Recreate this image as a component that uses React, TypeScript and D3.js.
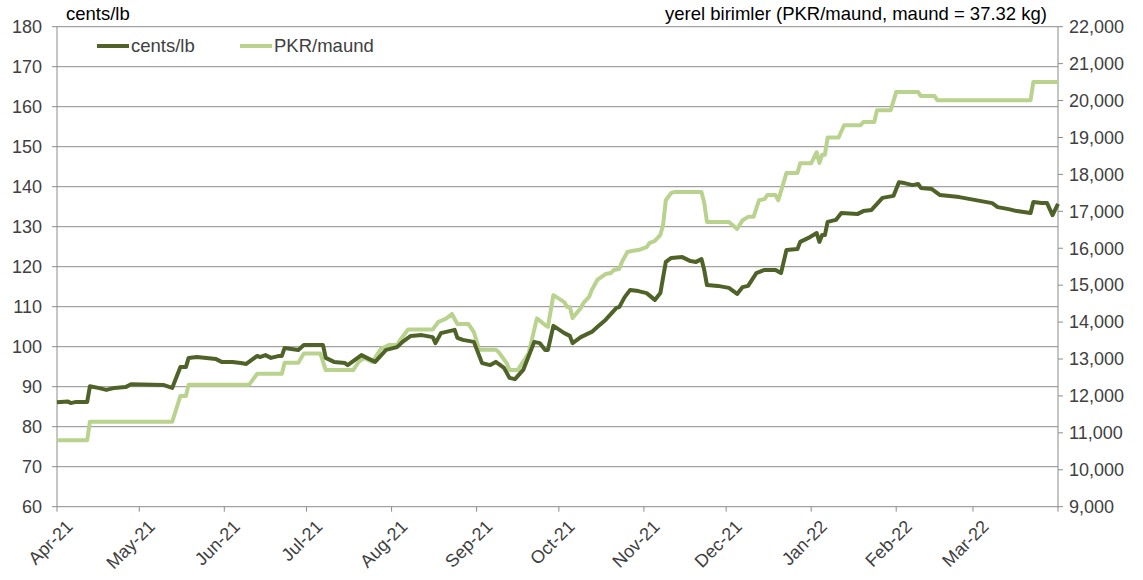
import React from 'react'
import * as d3 from 'd3'

// cents/lb series
const centsDates = [
  '2021-04-01', '2021-04-05', '2021-04-06', '2021-04-08', '2021-04-12', '2021-04-13', '2021-04-16', '2021-04-19',
  '2021-04-22', '2021-04-26', '2021-04-28', '2021-05-10', '2021-05-13', '2021-05-16', '2021-05-18', '2021-05-19',
  '2021-05-22', '2021-05-29', '2021-05-31', '2021-06-04', '2021-06-07', '2021-06-09', '2021-06-11', '2021-06-13',
  '2021-06-14', '2021-06-16', '2021-06-18', '2021-06-21', '2021-06-22', '2021-06-23', '2021-06-28', '2021-06-30',
  '2021-07-07', '2021-07-08', '2021-07-11', '2021-07-15', '2021-07-16', '2021-07-18', '2021-07-21', '2021-07-23',
  '2021-07-26', '2021-07-30', '2021-08-03', '2021-08-05', '2021-08-08', '2021-08-12', '2021-08-16', '2021-08-17',
  '2021-08-19', '2021-08-24', '2021-08-25', '2021-08-27', '2021-08-31', '2021-09-03', '2021-09-06', '2021-09-08',
  '2021-09-11', '2021-09-13', '2021-09-15', '2021-09-18', '2021-09-22', '2021-09-24', '2021-09-26', '2021-09-27',
  '2021-09-29', '2021-10-03', '2021-10-05', '2021-10-06', '2021-10-09', '2021-10-12', '2021-10-13', '2021-10-15',
  '2021-10-18', '2021-10-22', '2021-10-23', '2021-10-25', '2021-10-27', '2021-10-30', '2021-11-02', '2021-11-05',
  '2021-11-07', '2021-11-09', '2021-11-11', '2021-11-15', '2021-11-18', '2021-11-20', '2021-11-22', '2021-11-23',
  '2021-11-24', '2021-11-28', '2021-12-02', '2021-12-05', '2021-12-07', '2021-12-09', '2021-12-12', '2021-12-15',
  '2021-12-19', '2021-12-21', '2021-12-23', '2021-12-27', '2021-12-28', '2021-12-31', '2022-01-03', '2022-01-04',
  '2022-01-05', '2022-01-06', '2022-01-07', '2022-01-10', '2022-01-12', '2022-01-18', '2022-01-20', '2022-01-23',
  '2022-01-27', '2022-01-31', '2022-02-02', '2022-02-04', '2022-02-07', '2022-02-09', '2022-02-10', '2022-02-14',
  '2022-02-17', '2022-02-24', '2022-02-28', '2022-03-04', '2022-03-08', '2022-03-10', '2022-03-14', '2022-03-17',
  '2022-03-22', '2022-03-23', '2022-03-26', '2022-03-28', '2022-03-30', '2022-04-01',
]
const centsValues = [
  86.1, 86.3, 85.9, 86.2, 86.2, 90.1, 89.7, 89.2,
  89.7, 89.9, 90.6, 90.4, 89.7, 94.9, 94.9, 97.2,
  97.4, 96.9, 96.2, 96.2, 95.9, 95.7, 96.7, 97.7,
  97.4, 97.9, 97.2, 97.7, 97.7, 99.7, 99.2, 100.4,
  100.4, 97.2, 96.2, 95.9, 95.4, 96.4, 97.9, 97.2,
  96.2, 99.2, 99.9, 101.2, 102.7, 102.9, 102.4, 100.9,
  103.4, 104.2, 102.2, 101.7, 101.2, 95.9, 95.4, 96.2,
  94.7, 92.2, 91.9, 94.2, 101.2, 100.9, 99.2, 99.2,
  105.2, 103.4, 102.7, 100.9, 102.4, 103.4, 103.7, 104.9,
  106.7, 109.7, 109.9, 112.4, 114.2, 113.9, 113.4, 111.7,
  113.4, 121.2, 122.2, 122.4, 121.4, 121.2, 121.9, 119.2,
  115.4, 115.2, 114.7, 113.2, 114.9, 115.2, 118.4, 119.2,
  119.2, 118.4, 124.2, 124.4, 126.2, 127.2, 128.4, 126.2,
  127.9, 127.9, 131.2, 131.7, 133.4, 133.2, 133.9, 134.2,
  137.2, 137.7, 141.1, 140.9, 140.4, 140.7, 139.7, 139.4,
  137.9, 137.4, 136.9, 136.4, 135.9, 134.9, 134.4, 133.9,
  133.4, 136.2, 135.9, 135.9, 132.9, 135.7,
]

// PKR/maund series
const pkrDates = [
  '2021-04-01', '2021-04-12', '2021-04-13', '2021-05-13', '2021-05-16', '2021-05-18', '2021-05-19', '2021-06-10',
  '2021-06-13', '2021-06-22', '2021-06-23', '2021-06-28', '2021-06-30', '2021-07-06', '2021-07-08', '2021-07-18',
  '2021-07-20', '2021-07-22', '2021-07-25', '2021-07-28', '2021-07-31', '2021-08-03', '2021-08-04', '2021-08-07',
  '2021-08-16', '2021-08-18', '2021-08-21', '2021-08-23', '2021-08-25', '2021-08-29', '2021-08-31', '2021-09-02',
  '2021-09-08', '2021-09-09', '2021-09-12', '2021-09-13', '2021-09-16', '2021-09-20', '2021-09-22', '2021-09-23',
  '2021-09-26', '2021-09-27', '2021-09-29', '2021-10-03', '2021-10-04', '2021-10-05', '2021-10-06', '2021-10-09',
  '2021-10-10', '2021-10-12', '2021-10-13', '2021-10-15', '2021-10-18', '2021-10-20', '2021-10-21', '2021-10-23',
  '2021-10-24', '2021-10-26', '2021-10-28', '2021-10-30', '2021-11-02', '2021-11-03', '2021-11-05', '2021-11-07',
  '2021-11-08', '2021-11-09', '2021-11-11', '2021-11-12', '2021-11-22', '2021-11-23', '2021-11-24', '2021-12-02',
  '2021-12-05', '2021-12-07', '2021-12-09', '2021-12-11', '2021-12-13', '2021-12-15', '2021-12-16', '2021-12-19',
  '2021-12-20', '2021-12-23', '2021-12-27', '2021-12-28', '2022-01-01', '2022-01-03', '2022-01-04', '2022-01-05',
  '2022-01-06', '2022-01-07', '2022-01-11', '2022-01-13', '2022-01-19', '2022-01-20', '2022-01-24', '2022-01-25',
  '2022-01-30', '2022-02-01', '2022-02-09', '2022-02-10', '2022-02-15', '2022-02-16', '2022-03-22', '2022-03-23',
  '2022-04-01',
]
const pkrValues = [
  10800, 10800, 11300, 11300, 12000, 12000, 12300, 12300,
  12600, 12600, 12900, 12900, 13150, 13150, 12700, 12700,
  12920, 13030, 12920, 13270, 13380, 13380, 13500, 13800,
  13800, 14000, 14100, 14220, 13950, 13950, 13730, 13250,
  13250, 13190, 12890, 12700, 12700, 13160, 13790, 14100,
  13920, 13870, 14730, 14540, 14410, 14410, 14110, 14380,
  14520, 14680, 14870, 15140, 15300, 15330, 15410, 15440,
  15630, 15900, 15930, 15950, 16030, 16140, 16200, 16360,
  16630, 17300, 17500, 17520, 17520, 17230, 16710, 16710,
  16520, 16760, 16850, 16850, 17300, 17330, 17440, 17440,
  17300, 18040, 18040, 18300, 18300, 18600, 18310, 18530,
  18530, 19000, 19000, 19330, 19330, 19420, 19420, 19740,
  19740, 20230, 20230, 20120, 20120, 20010, 20010, 20500,
  20500,
]

const leftTicks = [60, 70, 80, 90, 100, 110, 120, 130, 140, 150, 160, 170, 180]
const rightTicks = [9000, 10000, 11000, 12000, 13000, 14000, 15000, 16000, 17000, 18000, 19000, 20000, 21000, 22000]
const monthTicks = ['2021-04-01', '2021-05-01', '2021-06-01', '2021-07-01', '2021-08-01', '2021-09-01',
  '2021-10-01', '2021-11-01', '2021-12-01', '2022-01-01', '2022-02-01', '2022-03-01']

const W = 1143, H = 580
const plot = { left: 57, right: 1058, top: 26.7, bottom: 506.7 }
const darkColor = '#4f6228'
const lightColor = '#b9d38f'
const gridColor = '#8c8c8c'
const font = '"Liberation Sans", Arial, sans-serif'

const parse = d3.utcParse('%Y-%m-%d')
const fmtMonth = d3.utcFormat('%b-%y')
const fmtNum = d3.format(',')

export default function App() {
  const x = d3.scaleUtc()
    .domain([parse('2021-04-01')!, parse('2022-04-01')!])
    .range([plot.left, plot.right])
  const yL = d3.scaleLinear().domain([60, 180]).range([plot.bottom, plot.top])
  const yR = d3.scaleLinear().domain([9000, 22000]).range([plot.bottom, plot.top])

  const cents = centsDates.map((d, i) => ({ date: parse(d)!, v: centsValues[i] }))
  const pkr = pkrDates.map((d, i) => ({ date: parse(d)!, v: pkrValues[i] }))

  const lineL = d3.line<{ date: Date; v: number }>().x(d => x(d.date)).y(d => yL(d.v))
  const lineR = d3.line<{ date: Date; v: number }>().x(d => x(d.date)).y(d => yR(d.v))

  const xTicks = [...monthTicks.map(d => parse(d)!), parse('2022-04-01')!]

  return (
    <svg width={W} height={H} style={{ position: 'absolute', left: 0, top: 0, background: '#fff' }}
      fontFamily={font}>
      {/* gridlines */}
      {leftTicks.map(t => (
        <line key={'g' + t} x1={plot.left} x2={plot.right} y1={yL(t)} y2={yL(t)} stroke={gridColor} strokeWidth={1} />
      ))}
      {/* left axis */}
      <line x1={plot.left} x2={plot.left} y1={plot.top} y2={plot.bottom} stroke={gridColor} />
      {leftTicks.map(t => (
        <g key={'l' + t}>
          <line x1={plot.left - 5} x2={plot.left} y1={yL(t)} y2={yL(t)} stroke={gridColor} />
          <text x={plot.left - 15} y={yL(t)} dy="0.35em" textAnchor="end" fontSize={18} fill="#404040">{t}</text>
        </g>
      ))}
      {/* right axis */}
      <line x1={plot.right} x2={plot.right} y1={plot.top} y2={plot.bottom} stroke={gridColor} />
      {rightTicks.map(t => (
        <g key={'r' + t}>
          <line x1={plot.right} x2={plot.right + 5} y1={yR(t)} y2={yR(t)} stroke={gridColor} />
          <text x={plot.right + 11} y={yR(t)} dy="0.35em" textAnchor="start" fontSize={18} fill="#404040">{fmtNum(t)}</text>
        </g>
      ))}
      {/* bottom axis */}
      {xTicks.map((t, i) => (
        <g key={'x' + i}>
          <line x1={x(t)} x2={x(t)} y1={plot.bottom} y2={plot.bottom + 5} stroke={gridColor} />
          {i < monthTicks.length && (
            <text transform={`translate(${x(t) + 8},${plot.bottom + 12}) rotate(-45)`} textAnchor="end"
              dy="0.7em" fontSize={18} fill="#404040">{fmtMonth(t)}</text>
          )}
        </g>
      ))}

      {/* series */}
      <path d={lineR(pkr)!} fill="none" stroke={lightColor} strokeWidth={4} strokeLinejoin="round" />
      <path d={lineL(cents)!} fill="none" stroke={darkColor} strokeWidth={4} strokeLinejoin="round" />

      {/* titles */}
      <text x={66} y={20} fontSize={18.5} fill="#000">cents/lb</text>
      <text x={1047} y={20} fontSize={18.5} fill="#000" textAnchor="end">yerel birimler (PKR/maund, maund = 37.32 kg)</text>

      {/* legend */}
      <line x1={97} x2={129} y1={46} y2={46} stroke={darkColor} strokeWidth={4} />
      <text x={131} y={46} dy="0.35em" fontSize={18.5} fill="#404040">cents/lb</text>
      <line x1={240} x2={272} y1={46} y2={46} stroke={lightColor} strokeWidth={4} />
      <text x={274} y={46} dy="0.35em" fontSize={18.5} fill="#404040">PKR/maund</text>
    </svg>
  )
}
